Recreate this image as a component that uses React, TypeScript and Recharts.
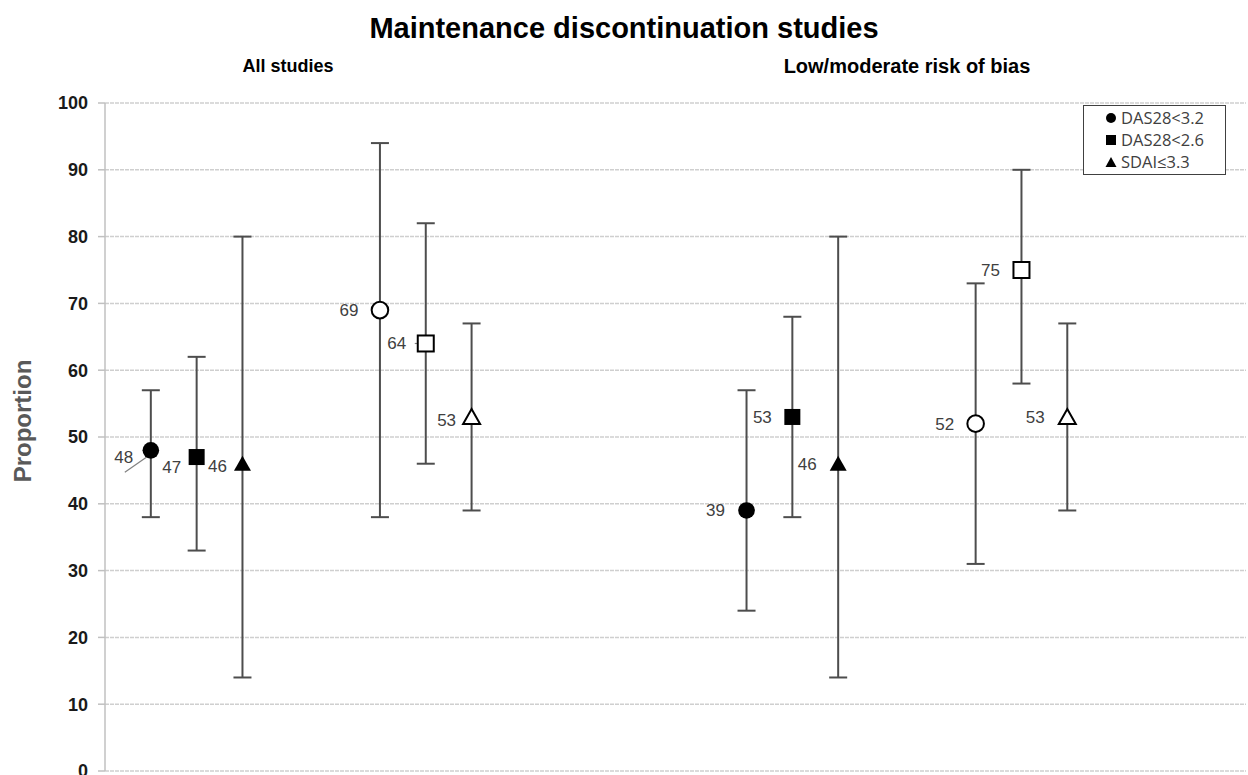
import React from 'react';
import { ScatterChart, Scatter, XAxis, YAxis, CartesianGrid, ErrorBar } from 'recharts';

const FONT = '"Liberation Sans", Arial, sans-serif';

const groups = ['All studies', 'Low/moderate risk of bias'];
const measures = ['DAS28<3.2', 'DAS28<2.6', 'SDAI≤3.3'];
const yTicks = [0, 10, 20, 30, 40, 50, 60, 70, 80, 90, 100];

// slot on the x axis, per measure: [All studies, Low/moderate]
const filledX = [[0, 13], [1, 14], [2, 15]];
const openX = [[5, 18], [6, 19], [7, 20]];

// filled markers
const filledEst = [[48, 39], [47, 53], [46, 46]];
const filledLow = [[38, 24], [33, 38], [14, 14]];
const filledHigh = [[57, 57], [62, 68], [80, 80]];

// open markers
const openEst = [[69, 52], [64, 75], [53, 53]];
const openLow = [[38, 31], [46, 58], [39, 39]];
const openHigh = [[94, 73], [82, 90], [67, 67]];

// label placement (px offsets from the marker), same shape as the data
const filledLabelShift = [[[-27, 7], [-31, 0]], [[-25, 10], [-30, 1]], [[-25, 3], [-31, 1]]];
const openLabelShift = [[[-31, 0], [-31, 1]], [[-29, 0], [-31, 0]], [[-25, 4], [-32, 1]]];

const buildRows = (xs: number[], est: number[], lo: number[], hi: number[], shift: number[][], m: number, open: boolean) =>
  xs.map((x, g) => ({
    x,
    y: est[g],
    err: [est[g] - lo[g], hi[g] - est[g]],
    measure: m,
    open,
    group: g,
    dx: shift[g][0],
    dy: shift[g][1],
  }));

function MarkerShape(props: any) {
  const { cx, cy, payload } = props;
  if (cx == null || cy == null) return null;
  const fill = payload.open ? '#ffffff' : '#000000';
  const sw = payload.open ? 2 : 0;
  let mark;
  if (payload.measure === 0) {
    mark = <circle cx={cx} cy={cy} r={8.3} fill={fill} stroke="#000" strokeWidth={sw} />;
  } else if (payload.measure === 1) {
    mark = <rect x={cx - 8} y={cy - 8} width={16} height={16} fill={fill} stroke="#000" strokeWidth={sw} />;
  } else {
    mark = (
      <polygon
        points={`${cx},${cy - 8} ${cx + 8.5},${cy + 7} ${cx - 8.5},${cy + 7}`}
        fill={fill}
        stroke="#000"
        strokeWidth={sw}
      />
    );
  }
  const leaderFilled = !payload.open && payload.measure === 0 && payload.group === 0;
  const leaderOpen = payload.open && payload.measure === 1 && payload.group === 0;
  return (
    <g>
      {leaderFilled && <line x1={cx - 26} y1={cy + 22} x2={cx - 3} y2={cy + 6} stroke="#808080" strokeWidth={1.2} />}
      {leaderOpen && <line x1={cx - 11} y1={cy} x2={cx - 7} y2={cy} stroke="#808080" strokeWidth={1.2} />}
      {mark}
      <text
        x={cx + payload.dx}
        y={cy + payload.dy}
        textAnchor="middle"
        dominantBaseline="central"
        fontSize={17}
        fontFamily={FONT}
        fill="#404040"
      >
        {payload.y}
      </text>
    </g>
  );
}

function AxisTitle(props: any) {
  const { viewBox } = props;
  const x = 22;
  const y = viewBox.y + viewBox.height / 2 - 16;
  return (
    <text
      x={x}
      y={y}
      transform={`rotate(-90, ${x}, ${y})`}
      textAnchor="middle"
      dominantBaseline="central"
      fontSize={24}
      fontWeight="bold"
      fill="#595959"
      fontFamily={FONT}
    >
      Proportion
    </text>
  );
}

function LegendMark({ m }: { m: number }) {
  if (m === 0) return <circle cx={6} cy={6} r={5} fill="#000" />;
  if (m === 1) return <rect x={1} y={1} width={10} height={10} fill="#000" />;
  return <polygon points="6,1 11.5,11 0.5,11" fill="#000" />;
}

export default function App() {
  const series = [
    ...measures.map((name, m) => ({ key: `f${m}`, name, rows: buildRows(filledX[m], filledEst[m], filledLow[m], filledHigh[m], filledLabelShift[m], m, false) })),
    ...measures.map((name, m) => ({ key: `o${m}`, name, rows: buildRows(openX[m], openEst[m], openLow[m], openHigh[m], openLabelShift[m], m, true) })),
  ];

  return (
    <div style={{ position: 'absolute', left: 0, top: 0, width: 1248, height: 775, background: '#fff', fontFamily: FONT }}>
      <div style={{ position: 'absolute', left: 0, top: 11, width: 1248, textAlign: 'center', fontSize: 29, fontWeight: 'bold', color: '#000', lineHeight: '34px' }}>
        Maintenance discontinuation studies
      </div>
      <div style={{ position: 'absolute', left: 138, top: 55, width: 300, textAlign: 'center', fontSize: 18, fontWeight: 'bold', color: '#000', lineHeight: '22px' }}>
        {groups[0]}
      </div>
      <div style={{ position: 'absolute', left: 757, top: 54, width: 300, textAlign: 'center', fontSize: 20, fontWeight: 'bold', color: '#000', lineHeight: '24px' }}>
        {groups[1]}
      </div>

      <ScatterChart width={1248} height={775} margin={{ top: 103, right: 2, bottom: 4, left: 0 }}>
        <CartesianGrid vertical={false} stroke="#cfcfcf" strokeWidth={1.5} strokeDasharray="4 1" />
        <XAxis type="number" dataKey="x" domain={[-1, 23.9]} hide />
        <YAxis
          type="number"
          dataKey="y"
          domain={[0, 100]}
          ticks={yTicks}
          interval={0}
          width={105}
          axisLine={{ stroke: '#c0c0c0', strokeWidth: 1.5 }}
          tickLine={{ stroke: '#c0c0c0', strokeWidth: 1.5 }}
          tickSize={7}
          tickMargin={10}
          tick={{ fontSize: 18, fontWeight: 'bold', fill: '#1a1a1a', fontFamily: FONT }}
          label={<AxisTitle />}
        />
        {series.map((s) => (
          <Scatter key={s.key} name={s.name} data={s.rows} shape={MarkerShape} isAnimationActive={false}>
            <ErrorBar dataKey="err" direction="y" width={9} stroke="#4d4d4d" strokeWidth={2} isAnimationActive={false} />
          </Scatter>
        ))}
      </ScatterChart>

      <div
        style={{
          position: 'absolute',
          left: 1083,
          top: 105,
          width: 141,
          height: 68,
          border: '1.5px solid #404040',
          background: '#fff',
          boxSizing: 'content-box',
        }}
      >
        {measures.map((name, m) => (
          <div key={name} style={{ display: 'flex', alignItems: 'center', height: 22, marginTop: m === 0 ? 1 : 0, paddingLeft: 21 }}>
            <svg width={12} height={12} style={{ marginRight: 4 }}>
              <LegendMark m={m} />
            </svg>
            <span style={{ fontFamily: '"Open Sans", sans-serif', fontSize: 16.5, color: '#404040', lineHeight: '22px', whiteSpace: 'nowrap' }}>{name}</span>
          </div>
        ))}
      </div>
    </div>
  );
}
